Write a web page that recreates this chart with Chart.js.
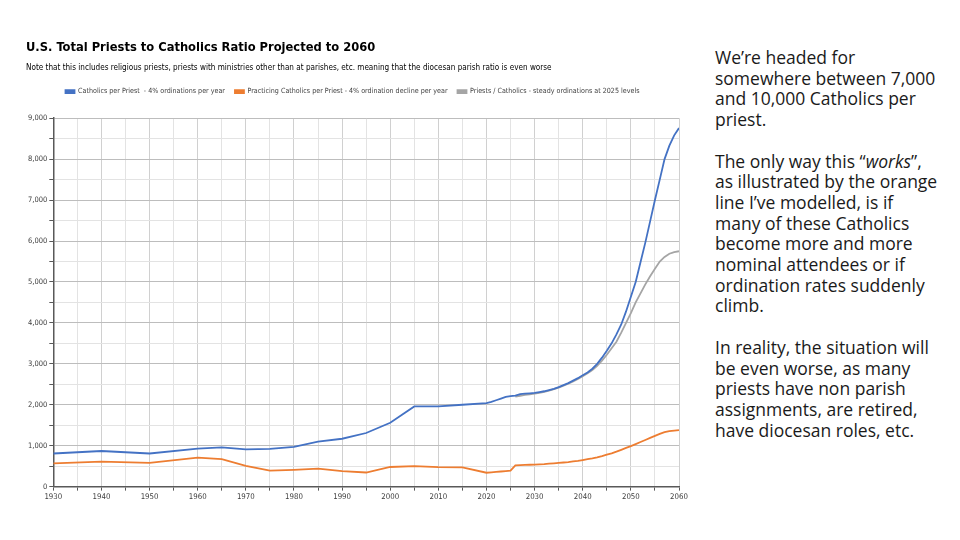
<!DOCTYPE html>
<html>
<head>
<meta charset="utf-8">
<title>U.S. Total Priests to Catholics Ratio Projected to 2060</title>
<script src="https://cdn.jsdelivr.net/npm/chart.js@4.4.1/dist/chart.umd.min.js"></script>
<style>
  html, body { margin: 0; padding: 0; background: #fff; }
  #wrap { position: relative; width: 960px; height: 540px; overflow: hidden; }
  #chartBox { position: absolute; left: 0; top: 0; width: 700px; height: 540px; }
  #notes {
    position: absolute; left: 715px; top: 47px; width: 226px;
    font-family: 'Open Sans', 'Noto Sans', sans-serif;
    font-size: 17.5px; line-height: 20.7px; color: #1a1a1a;
  }
  #notes p { margin: 0 0 20.7px 0; }
</style>
</head>
<body>
<div id="wrap">
  <div id="chartBox"><canvas id="ratioChart"></canvas></div>
  <div id="notes">
    <p>We’re headed for somewhere between 7,000 and 10,000 Catholics per priest.</p>
    <p>The only way this “<i>works</i>”, as illustrated by the orange line I’ve modelled, is if many of these Catholics become more and more nominal attendees or if ordination rates suddenly climb.</p>
    <p>In reality, the situation will be even worse, as many priests have non parish assignments, are retired, have diocesan roles, etc.</p>
  </div>
</div>
<script>
'use strict';

// years on the x axis (historical every 5-10 years, projection yearly)
const years = [
  1930, 1940, 1950, 1960, 1965, 1970, 1975, 1980, 1985, 1990, 1995, 2000, 2005, 2010, 2015,
  2020, 2021, 2022, 2023, 2024, 2025, 2026, 2027, 2028, 2029, 2030,
  2031, 2032, 2033, 2034, 2035, 2036, 2037, 2038, 2039, 2040,
  2041, 2042, 2043, 2044, 2045, 2046, 2047, 2048, 2049, 2050,
  2051, 2052, 2053, 2054, 2055, 2056, 2057, 2058, 2059, 2060
];

const catholicsPerPriest = [
  810, 870, 810, 930, 960, 910, 920, 970, 1100, 1170, 1310, 1560, 1960, 1960, 2000,
  2040, 2070, 2110, 2150, 2190, 2210, 2225, 2260, 2270, 2280, 2290,
  2310, 2330, 2360, 2390, 2430, 2480, 2530, 2590, 2650, 2720,
  2790, 2880, 3000, 3150, 3320, 3500, 3720, 3960, 4280, 4640,
  5000, 5480, 5960, 6480, 7000, 7500, 8000, 8330, 8580, 8760
];

const practicingPerPriest = [
  570, 610, 580, 710, 670, 510, 390, 410, 440, 380, 345, 480, 500, 475, 470,
  340, 350, 360, 370, 380, 390, 520, 525, 530, 535, 540,
  545, 550, 560, 570, 580, 590, 600, 615, 630, 650,
  670, 690, 715, 745, 780, 815, 855, 900, 945, 990,
  1040, 1090, 1140, 1190, 1240, 1290, 1330, 1355, 1370, 1380
];

const steadyOrdinations = [
  null, null, null, null, null, null, null, null, null, null, null, null, null, null, null,
  null, null, null, null, null, null, 2200, 2220, 2240, 2255, 2270,
  2290, 2315, 2345, 2380, 2420, 2465, 2515, 2570, 2630, 2700,
  2770, 2850, 2950, 3080, 3220, 3380, 3540, 3760, 4000, 4240,
  4500, 4720, 4940, 5140, 5320, 5500, 5610, 5690, 5730, 5750
];

const seriesNames = [
  'Catholics per Priest  - 4% ordinations per year',
  'Practicing Catholics per Priest - 4% ordination decline per year',
  'Priests / Catholics - steady ordinations at 2025 levels'
];

function toPoints(values) {
  return years.map((yr, i) => ({ x: yr, y: values[i] }));
}

const narrow = "'Liberation Sans Narrow', 'DejaVu Sans Condensed', 'Liberation Sans', sans-serif";

// extra gap between the legend and the plot, like the original
const legendGap = {
  id: 'legendGap',
  beforeInit(chart) {
    const origFit = chart.legend.fit;
    chart.legend.fit = function fit() {
      origFit.bind(chart.legend)();
      this.height += 13;
    };
  }
};

var lineStyle = {
  borderWidth: 1.8,
  pointRadius: 0,
  pointHoverRadius: 0,
  tension: 0,
  spanGaps: false
};

var ratioData = {
  datasets: [
    Object.assign({
      label: seriesNames[0],
      borderColor: '#4472C4',
      backgroundColor: '#4472C4',
      data: toPoints(catholicsPerPriest)
    }, lineStyle),
    Object.assign({
      label: seriesNames[1],
      borderColor: '#ED7D31',
      backgroundColor: '#ED7D31',
      data: toPoints(practicingPerPriest)
    }, lineStyle),
    Object.assign({
      label: seriesNames[2],
      borderColor: '#A5A5A5',
      backgroundColor: '#A5A5A5',
      data: toPoints(steadyOrdinations)
    }, lineStyle)
  ]
};

var ratioOptions = {
  responsive: true,
  maintainAspectRatio: false,
  animation: false,
  layout: { padding: { top: 40, left: 26, right: 21, bottom: 36 } },
  plugins: {
    title: {
      display: true,
      text: 'U.S. Total Priests to Catholics Ratio Projected to 2060',
      align: 'start',
      color: '#000',
      font: { family: narrow, size: 12.8, weight: 'bold' },
      padding: { top: 0, bottom: 8 }
    },
    subtitle: {
      display: true,
      text: 'Note that this includes religious priests, priests with ministries other than at parishes, etc. meaning that the diocesan parish ratio is even worse',
      align: 'start',
      color: '#000',
      font: { family: narrow, size: 8.1 },
      padding: { top: 0, bottom: 5 }
    },
    legend: {
      display: true,
      position: 'top',
      align: 'center',
      labels: {
        boxWidth: 9,
        boxHeight: 3,
        padding: 10,
        color: '#404040',
        font: { family: narrow, size: 7.1 }
      }
    },
    tooltip: { enabled: false }
  },
  scales: {
    x: {
      type: 'linear',
      min: 1930,
      max: 2060,
      ticks: {
        stepSize: 5,
        autoSkip: false,
        maxRotation: 0,
        color: '#404040',
        font: { family: narrow, size: 7.8 },
        padding: 2,
        callback: (v) => (v % 10 === 0 ? String(v) : '')
      },
      grid: {
        color: (ctx) => (ctx.tick && ctx.tick.value % 10 === 0 ? '#d0d0d0' : '#e3e3e3'),
        tickColor: '#595959',
        tickLength: 4
      },
      border: { color: '#595959', width: 1.5 }
    },
    y: {
      min: 0,
      max: 9000,
      ticks: {
        stepSize: 500,
        autoSkip: false,
        color: '#404040',
        font: { family: narrow, size: 7.5 },
        padding: 2,
        callback: (v) => (v % 1000 === 0 ? v.toLocaleString('en-US') : '')
      },
      grid: {
        color: (ctx) => (ctx.tick && ctx.tick.value % 1000 === 0 ? '#bdbdbd' : '#e3e3e3'),
        tickColor: '#595959',
        tickLength: 4
      },
      border: { color: '#595959', width: 1.5 }
    }
  }
};

new Chart(document.getElementById('ratioChart'), {
  type: 'line',
  data: ratioData,
  options: ratioOptions,
  plugins: [legendGap]
});
</script>
</body>
</html>
